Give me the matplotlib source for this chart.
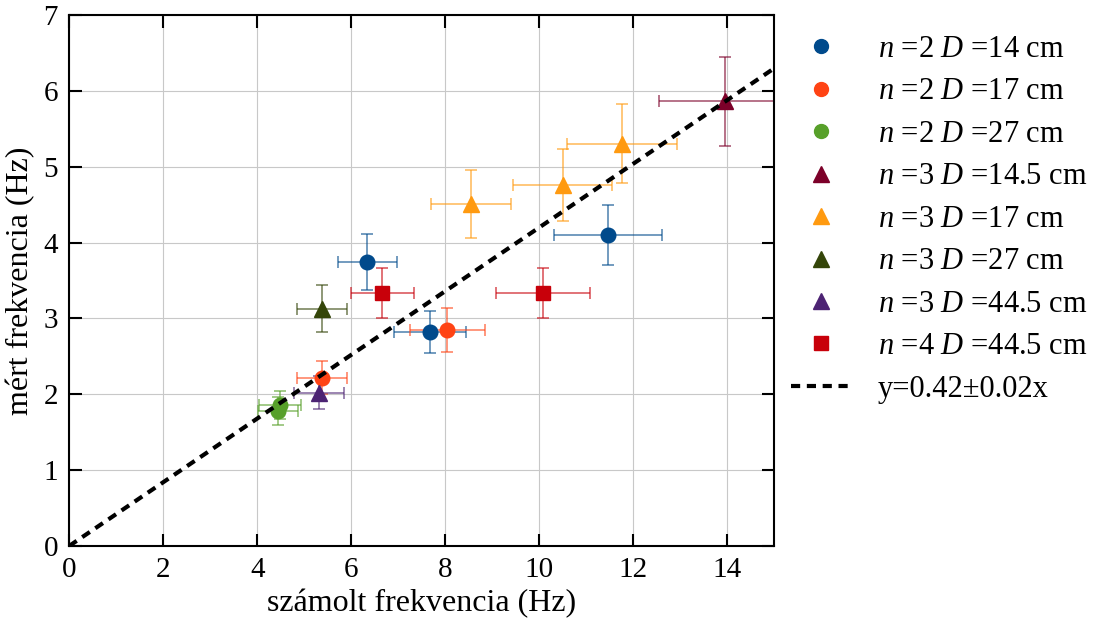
import matplotlib
matplotlib.use("Agg")
import matplotlib.pyplot as plt
from matplotlib.lines import Line2D
import numpy as np

plt.rcParams['font.family'] = ['Liberation Serif', 'DejaVu Serif']
plt.rcParams['mathtext.fontset'] = 'custom'
plt.rcParams['mathtext.rm'] = 'Liberation Serif'
plt.rcParams['mathtext.it'] = 'Liberation Serif:italic'

# measurement series: calculated frequency (x), measured frequency (y), errors
labels = ['$n$ =2 $D$ =14 cm', '$n$ =2 $D$ =17 cm', '$n$ =2 $D$ =27 cm',
          '$n$ =3 $D$ =14.5 cm', '$n$ =3 $D$ =17 cm', '$n$ =3 $D$ =27 cm',
          '$n$ =3 $D$ =44.5 cm', '$n$ =4 $D$ =44.5 cm']
colors = ['#004a8c', '#ff4314', '#57a02a', '#7c0029', '#ff9a10', '#344509', '#4c2373', '#c8000a']
markers = ['o', 'o', 'o', '^', '^', '^', '^', 's']

x_vals = [[6.34, 7.67, 11.46], [5.38, 8.04], [4.49, 4.44], [13.95],
          [8.55, 10.50, 11.75], [5.38], [5.31], [6.66, 10.08]]
y_vals = [[3.74, 2.82, 4.10], [2.22, 2.85], [1.86, 1.78], [5.86],
          [4.51, 4.76, 5.30], [3.13], [2.02], [3.33, 3.33]]
x_errs = [[0.63, 0.77, 1.15], [0.54, 0.80], [0.45, 0.43], [1.40],
          [0.85, 1.05, 1.17], [0.54], [0.53], [0.67, 1.00]]
y_errs = [[0.37, 0.28, 0.40], [0.22, 0.29], [0.18, 0.18], [0.59],
          [0.45, 0.47, 0.52], [0.31], [0.22], [0.33, 0.33]]

slope = 0.42
fit_label = 'y=0.42±0.02x'

fig = plt.figure(figsize=(10.97, 6.24), dpi=100)
ax = fig.add_axes([0.063, 0.125, 0.643, 0.851])

handles = []
for lab, c, m, xs, ys, xe, ye in zip(labels, colors, markers, x_vals, y_vals, x_errs, y_errs):
    ms = 11 if m == '^' else 10.5
    ax.errorbar(xs, ys, xerr=xe, yerr=ye, fmt='none', ecolor=c, elinewidth=1.1,
                capsize=4, capthick=1.1, alpha=0.7, zorder=2)
    ax.plot(xs, ys, m, color=c, ms=ms, zorder=3)
    handles.append(Line2D([], [], ls='none', marker=m, color=c, ms=11 if m == '^' else 10))

xl = np.array([0, 15])
ax.plot(xl, slope * xl, 'k--', lw=3, dashes=(2.2, 1.6), zorder=4)
handles.append(Line2D([], [], color='k', ls='--', lw=3, dashes=(2.2, 1.6)))

ax.set_xlim(0, 15)
ax.set_ylim(0, 7)
ax.set_xticks(range(0, 15, 2))
ax.set_yticks(range(0, 8))
ax.grid(True, color='#c8c8c8', lw=0.8)
ax.set_axisbelow(True)
ax.tick_params(direction='in', top=True, right=True, length=9, width=1.5,
               labelsize=21, pad=8)
for s in ax.spines.values():
    s.set_linewidth(1.5)

ax.set_xlabel('számolt frekvencia (Hz)', fontsize=23, labelpad=4)
ax.set_ylabel('mért frekvencia (Hz)', fontsize=23, labelpad=6)

ax.legend(handles, labels + [fit_label],
          loc='upper left', bbox_to_anchor=(0.984, 1.014), frameon=False,
          fontsize=22, labelspacing=0.44, handlelength=2.0, handletextpad=0.85)

fig.savefig('out.png', dpi=100)
